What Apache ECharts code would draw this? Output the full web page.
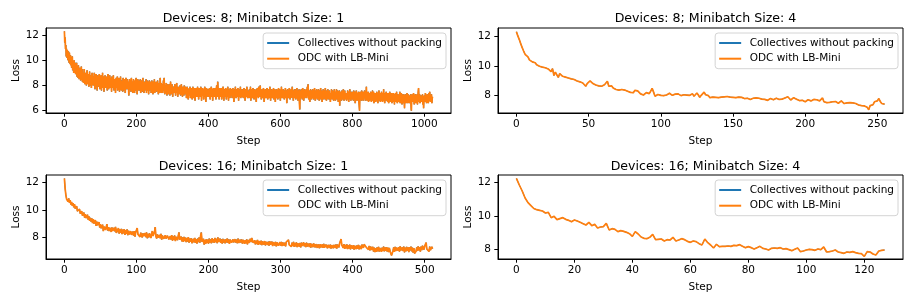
<!DOCTYPE html>
<html>
<head>
<meta charset="utf-8">
<script src="https://cdn.jsdelivr.net/npm/echarts@6/dist/echarts.min.js"></script>
<style>
html,body{margin:0;padding:0;background:#fff;}
#chart{width:914px;height:305px;}
</style>
</head>
<body>
<div id="chart"></div>
<script>
// ---- Data ----
const seriesNames = ['Collectives without packing', 'ODC with LB-Mini'];
const panelTitles = [
  'Devices: 8; Minibatch Size: 1',
  'Devices: 8; Minibatch Size: 4',
  'Devices: 16; Minibatch Size: 1',
  'Devices: 16; Minibatch Size: 4'
];
const xTicks1 = [0, 200, 400, 600, 800, 1000];
const xTicks2 = [0, 50, 100, 150, 200, 250];
const xTicks3 = [0, 100, 200, 300, 400, 500];
const xTicks4 = [0, 20, 40, 60, 80, 100, 120];
const yTicks1 = [6, 8, 10, 12];
const yTicks2 = [8, 10, 12];
const yTicks3 = [8, 10, 12];
const yTicks4 = [8, 10, 12];

// Devices 8, minibatch 1 (steps 0..1023)
const loss8x1 = [
12.3,11.4,11.8,10.9,11.2,10.3,10.9,10.2,10.8,10.3,10.0,10.7,10.2,9.8,10.6,9.9,
9.7,10.4,9.6,10.1,9.4,10.0,10.3,9.2,9.9,9.5,9.0,10.0,9.3,9.2,9.8,8.9,
9.6,9.1,9.8,8.7,9.5,9.0,8.6,9.6,8.9,8.5,9.4,8.8,9.3,8.4,9.1,9.5,
8.6,9.3,8.3,9.0,9.1,8.2,8.8,9.3,8.5,8.1,9.0,8.4,8.9,8.0,8.7,9.2,
8.3,8.9,8.1,8.8,7.9,8.6,9.1,8.4,8.0,8.8,8.3,7.8,8.7,9.0,8.2,8.5,
8.0,8.7,8.3,9.0,8.1,7.7,8.6,8.2,8.9,7.9,8.4,7.6,8.8,8.2,8.6,7.9,
8.5,8.9,8.0,7.7,8.6,8.2,8.8,7.6,8.5,8.0,9.0,7.8,8.3,8.7,7.5,8.5,
8.1,8.8,7.8,8.3,8.7,7.9,8.5,7.6,8.3,8.9,8.0,7.7,8.6,7.9,8.8,8.1,
7.8,8.6,8.2,7.5,8.7,8.0,8.4,7.8,8.8,8.1,7.6,8.5,7.9,8.4,7.4,8.2,
8.6,7.8,8.2,8.7,7.6,8.0,8.5,7.8,8.6,7.5,8.2,7.8,8.7,8.0,7.6,8.4,
7.8,8.3,7.5,8.6,8.0,7.6,8.5,7.9,8.3,7.4,8.1,8.6,7.7,8.3,7.8,8.5,
7.7,8.3,7.9,7.2,8.1,8.5,7.7,8.0,8.4,7.5,8.6,7.9,7.7,8.3,7.4,8.1,
8.5,7.7,8.1,7.4,8.0,8.4,7.6,8.6,7.7,8.2,7.3,8.0,8.5,7.6,8.2,7.8,
8.4,7.6,8.0,8.5,7.4,8.2,7.8,8.4,8.0,7.5,8.6,7.8,8.2,7.4,8.3,8.0,
7.6,8.3,7.8,8.5,7.4,8.0,8.4,7.6,7.8,8.3,7.3,8.0,8.4,7.6,8.0,7.8,
8.3,7.4,7.8,8.4,7.6,8.0,7.3,7.9,8.3,7.6,8.5,7.4,7.8,8.0,7.6,8.3,
7.5,8.1,7.7,8.4,7.8,7.3,8.2,7.6,8.0,7.4,8.6,7.8,7.6,8.2,7.4,7.9,
8.1,7.4,7.8,8.4,7.6,8.6,7.8,7.3,8.0,7.6,7.4,8.2,7.8,7.2,7.7,8.1,
7.5,7.9,7.3,8.1,7.7,7.2,7.9,8.3,7.5,7.7,7.3,8.1,7.7,7.1,7.9,7.5,
7.9,7.4,7.7,8.1,7.5,7.2,7.9,7.5,8.2,7.4,7.7,7.1,7.9,7.5,7.3,7.8,
7.4,8.0,7.6,7.2,7.8,8.1,7.4,7.6,7.1,7.9,7.6,7.8,7.2,8.0,7.4,7.7,
7.9,7.3,7.7,7.0,7.5,7.9,7.3,7.7,6.9,7.6,7.2,7.8,7.4,7.9,7.0,7.6,
7.2,7.8,7.4,6.9,7.6,7.9,7.2,7.6,7.0,7.8,7.4,6.8,7.6,7.2,7.8,7.4,
7.1,7.6,7.9,7.2,7.5,6.9,7.8,7.4,7.1,7.7,7.3,7.9,7.5,6.8,7.7,7.3,
7.8,7.2,7.5,6.9,7.7,7.1,7.9,7.5,7.3,6.7,7.5,7.8,7.1,7.7,7.3,7.5,
7.1,7.7,7.3,7.8,7.5,6.9,7.7,7.3,7.9,7.5,7.1,7.7,6.8,7.5,7.8,7.3,
7.7,7.1,7.5,7.8,7.3,6.9,7.7,8.0,7.5,7.1,8.3,7.7,7.3,7.5,6.9,7.8,
7.5,7.1,7.7,7.3,7.8,6.9,7.5,7.1,7.7,7.9,7.3,6.8,7.5,7.7,7.1,7.5,
7.8,7.3,6.9,7.7,7.1,7.5,7.9,7.3,6.8,7.7,7.3,7.5,7.0,7.8,7.2,7.5,
7.3,7.7,7.0,7.5,7.8,7.1,7.5,6.7,7.3,7.7,7.1,7.9,7.3,7.0,7.5,7.7,
7.1,7.5,7.8,7.3,6.8,7.5,7.1,7.7,7.3,7.9,7.0,7.5,7.3,7.7,7.1,7.5,
7.7,7.0,7.4,7.8,7.1,7.5,6.8,7.3,7.7,7.1,7.5,7.9,7.3,7.0,7.5,7.2,
7.6,7.0,7.7,7.1,7.4,7.9,6.8,7.5,7.1,7.7,7.0,7.3,7.8,7.1,7.5,6.9,
7.4,7.7,7.0,7.5,7.2,6.7,7.7,7.3,7.8,7.1,7.5,7.0,7.9,7.4,7.1,7.7,
8.0,7.2,7.5,6.9,7.4,7.7,7.0,7.5,7.2,7.8,7.4,6.7,7.5,7.1,7.7,7.4,
7.0,7.5,7.2,7.8,7.4,6.9,7.7,7.2,7.5,7.0,7.4,7.9,7.2,6.8,7.5,7.3,
7.7,7.2,7.0,7.5,7.3,7.8,6.9,7.4,7.2,7.7,6.7,7.4,7.6,7.0,7.7,7.2,
7.4,6.9,7.5,7.8,7.2,7.0,7.7,7.4,6.8,7.5,7.2,7.9,7.4,7.0,7.6,7.2,
7.7,7.0,7.4,6.9,7.6,7.2,7.8,7.4,7.0,7.6,6.6,7.4,7.7,7.2,7.6,7.0,
7.4,7.8,7.2,6.9,7.6,7.0,7.7,7.4,7.2,7.9,7.0,7.4,6.8,7.6,7.2,7.7,
7.0,7.4,7.7,6.9,7.6,7.2,7.8,7.0,7.4,6.8,7.6,7.2,7.7,6.6,6.1,7.2,
7.6,7.2,7.7,7.0,7.4,6.9,7.8,7.2,7.6,6.8,7.4,7.7,7.0,7.6,7.2,7.4,
7.7,7.0,7.6,7.9,7.3,8.1,7.2,6.9,7.6,7.0,6.7,7.4,7.7,7.2,6.9,7.6,
7.0,7.4,7.7,7.2,6.9,7.6,7.0,7.8,7.4,6.8,7.2,7.6,7.0,7.7,7.2,6.9,
7.5,7.0,7.7,7.2,6.8,7.6,7.0,7.4,7.8,6.9,7.2,7.6,6.7,7.4,7.0,7.7,
7.2,6.9,7.6,7.0,7.4,7.8,6.9,7.2,6.8,7.6,7.0,7.4,7.7,6.9,7.3,7.1,
7.6,6.9,7.3,6.7,7.4,7.0,7.7,7.2,6.9,7.6,7.0,7.4,6.8,7.3,7.7,7.0,
7.3,6.8,7.5,7.1,7.7,6.9,7.3,7.6,7.0,6.7,7.4,7.1,7.6,6.4,7.3,6.9,
7.5,7.1,6.8,7.6,7.2,6.9,7.4,7.7,7.1,6.8,7.3,7.6,6.9,7.4,7.0,7.3,
6.8,7.4,7.1,7.6,6.9,7.3,6.7,7.5,7.1,7.7,6.9,7.3,6.8,7.5,7.1,7.0,
7.5,6.9,7.3,6.8,7.6,7.1,6.9,7.5,6.6,7.3,7.0,7.6,7.1,6.8,7.4,7.0,
7.2,7.5,6.8,6.4,6.0,7.2,7.5,7.0,7.4,6.8,7.6,7.1,6.9,7.5,6.8,7.3,
7.0,7.4,7.6,7.1,6.8,7.5,7.0,7.9,7.1,6.8,7.4,7.0,7.5,6.7,7.2,7.4,
6.8,7.4,7.0,7.5,7.1,6.7,7.4,7.0,7.6,6.8,7.2,7.5,6.6,7.2,7.0,7.4,
7.2,6.7,7.4,7.0,7.5,6.8,7.2,6.6,7.4,7.0,7.6,6.8,7.2,7.0,6.7,7.4,
7.0,7.5,6.8,7.2,6.7,7.4,7.0,7.7,6.8,7.2,6.6,7.4,7.0,6.8,7.5,7.0,
6.8,7.3,6.7,7.4,7.0,6.6,7.3,6.9,7.5,7.0,6.7,7.3,6.9,7.4,6.6,7.1,
7.3,6.9,7.4,6.7,7.1,6.5,7.3,6.9,7.4,6.7,7.1,7.5,6.9,6.6,7.3,7.0,
7.1,6.7,7.3,6.9,7.5,6.6,7.1,6.8,7.4,7.0,6.5,7.3,6.9,7.2,6.6,7.3,
6.8,6.2,7.2,6.9,7.3,6.6,7.1,6.8,7.4,7.0,6.6,7.3,6.8,7.2,7.0,6.6,
7.2,6.8,7.3,6.4,6.0,7.0,7.3,6.7,7.2,6.8,7.4,7.0,6.5,7.2,6.8,7.3,
7.0,6.6,7.2,6.8,7.3,6.5,7.0,7.5,7.8,7.1,6.7,7.3,6.6,7.0,7.2,6.8,
7.2,6.7,7.0,7.3,6.5,7.0,6.2,6.9,7.2,6.7,7.0,7.4,6.8,7.2,6.6,7.0,
7.3,6.8,7.2,6.6,7.0,7.4,6.8,7.5,7.0,6.7,7.2,6.8,7.3,6.6,7.0,7.1
];

// Devices 8, minibatch 4 (steps 0..255)
const loss8x4 = [
12.34,12.05,11.80,11.52,11.25,11.02,10.80,10.68,10.62,10.42,
10.35,10.28,10.18,10.22,10.08,10.02,9.98,10.05,9.92,9.84,
9.88,9.92,9.80,9.72,9.62,9.82,9.35,9.58,9.40,9.22,
9.48,9.44,9.30,9.36,9.24,9.28,9.18,9.06,9.12,9.04,
9.08,9.00,8.98,9.04,8.92,8.96,8.84,8.92,8.62,8.80,
8.86,8.98,8.88,8.80,8.74,8.70,8.74,8.64,8.70,8.62,
8.68,8.72,8.80,8.96,8.62,8.52,8.64,8.50,8.46,8.40,
8.48,8.36,8.44,8.40,8.46,8.36,8.30,8.28,8.38,8.20,
8.26,8.18,8.34,8.42,8.30,8.22,8.10,8.14,8.02,8.08,
8.18,8.06,8.12,8.28,8.48,8.22,7.94,7.98,8.06,8.04,
8.00,8.10,7.98,8.06,8.02,8.08,8.14,8.04,8.00,8.06,
8.08,8.02,8.10,8.00,7.98,8.06,8.04,7.96,8.02,8.06,
8.00,8.04,8.10,7.94,8.06,8.16,8.02,7.86,8.00,8.12,
8.22,8.04,7.92,7.98,7.84,7.80,7.88,7.94,7.86,7.90,
7.84,7.92,7.88,7.82,7.90,7.86,7.92,7.84,7.88,7.78,
7.86,7.90,7.84,7.92,7.88,7.94,7.86,7.82,7.78,7.84,
7.80,7.76,7.72,7.68,7.80,7.74,7.82,7.70,7.80,7.76,
7.74,7.78,7.72,7.80,7.66,7.72,7.78,7.74,7.70,7.76,
7.80,7.76,7.72,7.78,7.74,7.70,7.82,7.86,7.90,7.78,
7.68,7.62,7.84,7.92,7.74,7.70,7.64,7.60,7.66,7.62,
7.56,7.64,7.70,7.66,7.62,7.68,7.72,7.64,7.70,7.66,
7.62,7.74,7.82,7.56,7.44,7.50,7.58,7.52,7.60,7.56,
7.54,7.58,7.50,7.46,7.54,7.62,7.50,7.44,7.52,7.48,
7.44,7.50,7.42,7.48,7.38,7.44,7.40,7.34,7.40,7.30,
7.36,7.28,7.24,7.18,7.02,7.30,7.42,7.36,7.56,7.48,
7.62,7.78,7.58,7.44,7.50,7.40
];

// Devices 16, minibatch 1 (steps 0..511)
const loss16x1 = [
12.29,11.55,11.10,10.80,10.92,10.62,10.84,10.52,10.72,10.40,10.58,10.30,10.50,10.20,10.42,10.10,
10.02,10.28,9.92,10.04,9.78,10.06,9.74,9.66,9.92,9.60,9.52,9.82,9.46,9.70,9.42,9.34,
9.66,9.30,9.54,9.22,9.44,9.16,9.40,9.06,9.34,9.02,8.94,9.28,8.86,9.16,8.90,8.78,
9.12,8.74,8.98,8.68,8.60,8.94,8.48,8.80,8.88,8.56,8.78,8.98,8.52,8.76,8.48,8.72,
8.82,8.42,8.74,8.50,8.38,8.72,8.46,8.78,8.34,8.64,8.40,8.70,8.30,8.60,8.36,8.64,
8.26,8.58,8.32,8.62,8.20,8.54,8.28,8.60,8.18,8.50,8.24,8.14,8.48,8.20,8.10,8.44,
8.16,8.48,8.08,8.40,8.52,8.70,8.26,8.12,8.38,8.06,8.36,8.44,8.02,8.32,8.12,8.00,
8.34,8.04,8.38,7.96,8.28,8.02,8.32,8.40,7.98,8.26,8.48,8.12,8.00,8.42,8.76,8.10,
7.94,8.24,8.00,7.88,8.20,7.96,8.28,7.86,8.16,8.22,7.92,7.82,8.18,7.94,7.84,8.14,
8.20,7.88,7.80,8.12,7.86,8.18,7.78,8.10,7.84,8.16,7.76,8.06,8.12,7.82,8.14,8.38,
7.86,7.78,8.08,7.74,8.02,7.70,8.06,7.76,8.00,7.68,7.98,7.72,8.04,7.64,7.94,7.70,
7.96,7.60,7.52,7.92,7.66,7.98,7.62,7.90,7.58,7.94,7.68,8.02,7.64,8.14,8.38,7.70,
7.60,7.92,7.50,7.84,7.56,7.90,7.62,7.86,7.58,7.94,7.64,7.88,7.60,7.96,7.66,7.90,
7.62,7.98,7.68,7.92,7.60,8.02,7.70,7.66,7.94,7.62,7.88,7.58,7.92,7.64,7.86,7.60,
7.90,7.66,7.94,7.62,7.88,7.56,7.86,7.92,7.64,7.60,7.88,7.66,7.58,7.90,7.64,7.86,
7.60,7.94,7.62,7.54,7.86,7.64,7.88,7.58,7.84,7.90,7.56,7.82,7.60,7.88,7.52,7.84,
7.62,7.58,7.92,7.68,7.98,8.04,7.64,7.56,7.80,7.52,7.78,7.54,7.84,7.48,7.76,7.64,
7.52,7.78,7.46,7.74,7.62,7.50,7.76,7.44,7.70,7.60,7.48,7.72,7.42,7.74,7.50,7.64,
7.72,7.40,7.68,7.58,7.44,7.70,7.38,7.66,7.56,7.42,7.36,7.68,7.44,7.70,7.40,7.66,
7.54,7.42,7.64,7.38,7.70,7.78,7.56,7.84,7.48,7.60,7.50,7.36,7.64,7.40,7.70,7.34,
7.62,7.38,7.66,7.32,7.60,7.50,7.36,7.62,7.30,7.64,7.40,7.34,7.66,7.38,7.60,7.32,
7.64,7.36,7.58,7.50,7.34,7.60,7.28,7.56,7.44,7.32,7.58,7.46,7.30,7.54,7.42,7.26,
7.52,7.40,7.24,7.54,7.30,7.22,7.52,7.26,7.56,7.28,7.20,7.50,7.36,7.24,7.48,7.34,
7.26,7.50,7.22,7.46,7.36,7.24,7.48,7.38,7.26,7.52,7.22,7.50,7.40,7.30,7.60,7.70,
7.90,7.46,7.32,7.26,7.54,7.20,7.48,7.24,7.52,7.18,7.46,7.22,7.50,7.16,7.44,7.34,
7.20,7.46,7.14,7.42,7.32,7.18,7.44,7.20,7.48,7.16,7.42,7.28,7.18,7.50,7.40,7.26,
7.52,7.44,7.62,7.30,7.20,7.44,7.14,7.40,7.08,7.36,7.12,7.04,7.34,7.00,7.28,6.96,
7.24,6.98,7.30,7.02,7.34,7.00,7.26,7.14,6.98,7.28,7.04,7.36,7.02,7.30,7.06,7.32,
7.00,7.28,6.96,7.26,7.02,6.88,6.72,6.66,7.04,7.30,6.98,7.34,7.04,7.28,7.36,7.06,
7.32,7.00,7.38,7.08,6.98,7.30,7.04,7.36,6.94,7.28,7.02,7.34,7.06,7.30,6.96,7.32,
7.08,7.36,7.02,7.28,6.92,7.24,6.86,6.72,7.02,7.30,7.04,7.38,7.08,7.32,7.00,7.36,
7.10,7.42,7.44,7.14,7.38,7.52,7.64,7.18,7.04,7.30,7.00,7.36,7.10,7.08,7.34,7.20
];

// Devices 16, minibatch 4 (steps 0..127)
const loss16x4 = [
12.26,11.86,11.50,11.08,10.80,10.62,10.45,10.38,10.34,10.30,
10.18,10.22,9.90,9.98,9.78,9.84,9.90,9.80,9.74,9.66,
9.76,9.70,9.62,9.54,9.46,9.62,9.42,9.50,9.28,9.34,
9.36,9.56,9.16,9.24,9.20,9.06,9.12,9.08,9.02,8.94,
8.78,9.06,8.92,8.74,8.66,8.64,8.72,8.90,8.58,8.60,
8.62,8.50,8.58,8.56,8.72,8.50,8.56,8.64,8.58,8.48,
8.42,8.50,8.46,8.34,8.26,8.62,8.40,8.26,8.08,8.30,
8.16,8.18,8.18,8.20,8.18,8.24,8.22,8.28,8.18,8.10,
8.16,8.10,8.02,8.10,8.18,8.06,8.02,7.96,8.06,8.08,
8.06,8.10,8.02,8.04,7.98,7.92,8.00,8.08,7.86,7.90,
7.96,8.00,7.98,7.94,8.02,7.98,8.14,7.84,7.86,7.90,
7.96,7.84,7.80,7.76,7.84,7.82,7.86,7.80,7.76,7.74,
7.58,7.86,7.84,7.72,7.66,7.90,7.94,7.96
];

// Blue series is fully hidden under the orange one in the reference
const collectives8x1 = loss8x1;
const collectives8x4 = loss8x4;
const collectives16x1 = loss16x1;
const collectives16x4 = loss16x4;

// ---- Chart ----
const FONT = 'DejaVu Sans';
const BLUE = '#1f77b4', ORANGE = '#ff7f0e';
const panels = [
  {blue: collectives8x1, orange: loss8x1, xt: xTicks1, yt: yTicks1, grid: {left: 46, top: 28, width: 405, height: 85}, ymin: 5.818, ymax: 12.555, legend: {right: 468, top: 33}, titleTop: 7},
  {blue: collectives8x4, orange: loss8x4, xt: xTicks2, yt: yTicks2, grid: {left: 498, top: 28, width: 405, height: 85}, ymin: 6.795, ymax: 12.59, legend: {right: 16, top: 33}, titleTop: 7},
  {blue: collectives16x1, orange: loss16x1, xt: xTicks3, yt: yTicks3, grid: {left: 46, top: 175, width: 405, height: 84}, ymin: 6.46, ymax: 12.533, legend: {right: 468, top: 180}, titleTop: 155},
  {blue: collectives16x4, orange: loss16x4, xt: xTicks4, yt: yTicks4, grid: {left: 498, top: 175, width: 405, height: 84}, ymin: 7.42, ymax: 12.46, legend: {right: 16, top: 180}, titleTop: 155}
];

const option = {
  animation: false,
  backgroundColor: '#fff',
  textStyle: {fontFamily: FONT},
  title: [], grid: [], xAxis: [], yAxis: [], legend: [], series: []
};

panels.forEach((p, i) => {
  const n = p.orange.length - 1;
  option.grid.push(Object.assign({show: true, borderColor: '#000', borderWidth: 1, backgroundColor: 'transparent'}, p.grid));
  option.title.push({
    text: panelTitles[i],
    left: p.grid.left + p.grid.width / 2,
    top: p.titleTop,
    textAlign: 'center',
    textStyle: {fontFamily: FONT, fontSize: 12.6, fontWeight: 'normal', color: '#000', lineHeight: 14}
  });
  option.xAxis.push({
    type: 'value', gridIndex: i, min: -0.05 * n, max: 1.05 * n,
    axisLine: {show: true, onZero: false, lineStyle: {color: '#000', width: 1}},
    axisTick: {show: true, length: 3.7, customValues: p.xt, lineStyle: {color: '#000', width: 1}},
    axisLabel: {customValues: p.xt, fontSize: 10.5, fontFamily: FONT, color: '#000', margin: 6, formatter: v => String(v)},
    splitLine: {show: false},
    name: 'Step', nameLocation: 'middle', nameGap: 23,
    nameTextStyle: {fontSize: 10.5, fontFamily: FONT, color: '#000'}
  });
  option.yAxis.push({
    type: 'value', gridIndex: i, min: p.ymin, max: p.ymax,
    axisLine: {show: true, onZero: false, lineStyle: {color: '#000', width: 1}},
    axisTick: {show: true, length: 3.7, customValues: p.yt, lineStyle: {color: '#000', width: 1}},
    axisLabel: {customValues: p.yt, fontSize: 10.5, fontFamily: FONT, color: '#000', margin: 7, formatter: v => String(v)},
    splitLine: {show: false},
    name: 'Loss', nameLocation: 'middle', nameGap: 24, nameRotate: 90,
    nameTextStyle: {fontSize: 10.5, fontFamily: FONT, color: '#000'}
  });
  option.legend.push({
    data: seriesNames,
    orient: 'vertical',
    right: p.legend.right, top: p.legend.top,
    icon: 'rect', itemWidth: 22, itemHeight: 2, itemGap: 3.7,
    backgroundColor: 'rgba(255,255,255,0.8)',
    borderColor: '#d4d4d4', borderWidth: 1, borderRadius: 3,
    padding: [4, 4, 4, 4],
    selectedMode: false,
    textStyle: {fontSize: 10.5, fontFamily: FONT, color: '#000', lineHeight: 12, padding: [0, 0, 0, 3.5]}
  });
  option.series.push({
    name: seriesNames[0], type: 'line', xAxisIndex: i, yAxisIndex: i,
    data: p.blue.map((v, k) => [k, v]),
    showSymbol: false, symbol: 'none', color: BLUE,
    lineStyle: {color: BLUE, width: 1.0}, z: 2
  });
  option.series.push({
    name: seriesNames[1], type: 'line', xAxisIndex: i, yAxisIndex: i,
    data: p.orange.map((v, k) => [k, v]),
    showSymbol: false, symbol: 'none', color: ORANGE,
    lineStyle: {color: ORANGE, width: 1.7}, z: 3
  });
});

const chart = echarts.init(document.getElementById('chart'), null, {renderer: 'canvas'});
chart.setOption(option);
</script>
</body>
</html>
